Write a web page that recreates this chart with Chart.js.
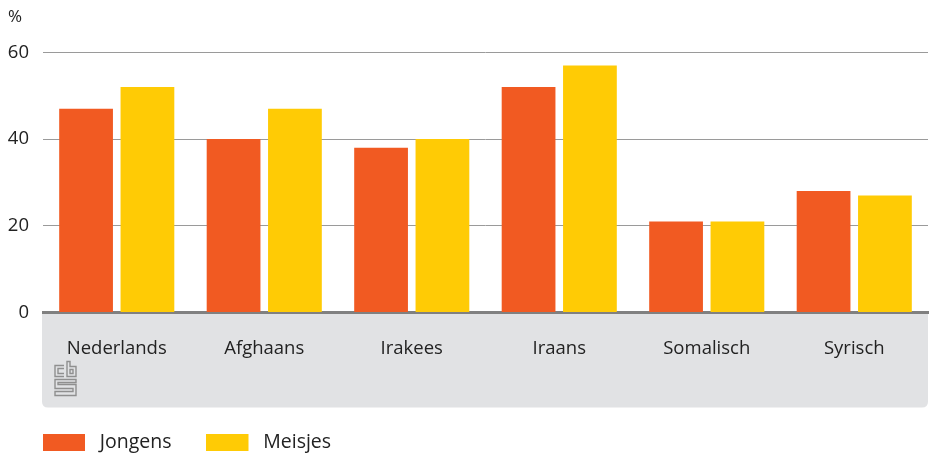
<!DOCTYPE html>
<html>
<head>
<meta charset="utf-8">
<script src="https://cdn.jsdelivr.net/npm/chart.js@4/dist/chart.umd.min.js"></script>
<style>
html,body{margin:0;padding:0;background:#fff;}
#wrap{width:930px;height:455px;position:relative;}
</style>
</head>
<body>
<div id="wrap"><canvas id="c" width="930" height="455"></canvas></div>
<script>
const categories = ["Nederlands", "Afghaans", "Irakees", "Iraans", "Somalisch", "Syrisch"];
const jongens = [47, 40, 38, 52, 21, 28];
const meisjes = [52, 47, 40, 57, 21, 27];
const seriesNames = ["Jongens", "Meisjes"];
const seriesColors = ["#f15a22", "#ffcb05"];
const yTicks = [0, 20, 40, 60];

const FONT = "'Open Sans', 'DejaVu Sans', sans-serif";
const TEXT = "#222222";

function legendSwatch(color) {
  const cv = document.createElement("canvas");
  cv.width = 47; cv.height = 17;
  const g = cv.getContext("2d");
  g.fillStyle = color;
  g.fillRect(0, 0, 42, 17);
  return cv;
}
const swatches = seriesColors.map(legendSwatch);

const bandPlugin = {
  id: "band",
  beforeDraw(chart) {
    const {ctx, chartArea} = chart;
    const l = chartArea.left - 1, r = chartArea.right, t = chartArea.bottom, b = t + 95, rad = 6;
    ctx.save();
    ctx.fillStyle = "#e1e2e4";
    ctx.beginPath();
    ctx.moveTo(l, t);
    ctx.lineTo(r, t);
    ctx.lineTo(r, b - rad);
    ctx.quadraticCurveTo(r, b, r - rad, b);
    ctx.lineTo(l + rad, b);
    ctx.quadraticCurveTo(l, b, l, b - rad);
    ctx.closePath();
    ctx.fill();
    // cbs logo (decorative)
    const x0 = l + 12, y0 = t + 49;
    ctx.strokeStyle = "#8f8f8f";
    ctx.lineWidth = 1.4;
    ctx.beginPath();
    ctx.moveTo(x0 + 10, y0 + 4); ctx.lineTo(x0 + 1, y0 + 4); ctx.lineTo(x0 + 1, y0 + 15); ctx.lineTo(x0 + 10, y0 + 15);
    ctx.moveTo(x0 + 10, y0 + 7); ctx.lineTo(x0 + 4, y0 + 7); ctx.lineTo(x0 + 4, y0 + 12); ctx.lineTo(x0 + 10, y0 + 12);
    ctx.moveTo(x0 + 13, y0 + 0); ctx.lineTo(x0 + 13, y0 + 15); ctx.lineTo(x0 + 22, y0 + 15); ctx.lineTo(x0 + 22, y0 + 5); ctx.lineTo(x0 + 16, y0 + 5); ctx.lineTo(x0 + 16, y0 + 0); ctx.closePath();
    ctx.moveTo(x0 + 16, y0 + 8); ctx.lineTo(x0 + 19, y0 + 8); ctx.lineTo(x0 + 19, y0 + 12); ctx.lineTo(x0 + 16, y0 + 12); ctx.closePath();
    ctx.moveTo(x0 + 22, y0 + 18); ctx.lineTo(x0 + 1, y0 + 18); ctx.lineTo(x0 + 1, y0 + 27); ctx.lineTo(x0 + 19, y0 + 27); ctx.lineTo(x0 + 19, y0 + 30); ctx.lineTo(x0 + 1, y0 + 30); ctx.lineTo(x0 + 1, y0 + 34); ctx.lineTo(x0 + 22, y0 + 34); ctx.lineTo(x0 + 22, y0 + 23); ctx.lineTo(x0 + 4, y0 + 23); ctx.lineTo(x0 + 4, y0 + 21); ctx.lineTo(x0 + 22, y0 + 21); ctx.closePath();
    ctx.stroke();
    ctx.restore();
  }
};

new Chart(document.getElementById("c"), {
  type: "bar",
  data: {
    labels: categories,
    datasets: [
      { label: seriesNames[0], data: jongens, backgroundColor: seriesColors[0] },
      { label: seriesNames[1], data: meisjes, backgroundColor: seriesColors[1] }
    ]
  },
  options: {
    responsive: false,
    animation: false,
    events: [],
    layout: { padding: { left: 8, right: 2, top: 0, bottom: -7 } },
    categoryPercentage: 0.832,
    barPercentage: 0.876,
    plugins: {
      tooltip: { enabled: false },
      title: {
        display: true,
        text: "%",
        align: "start",
        color: TEXT,
        font: { family: FONT, size: 17, weight: "normal", lineHeight: 1.2 },
        padding: { top: 7, bottom: 25 }
      },
      legend: {
        position: "bottom",
        align: "start",
        labels: {
          usePointStyle: true,
          pointStyleWidth: 47,
          boxHeight: 17,
          padding: 35,
          color: TEXT,
          font: { family: FONT, size: 19.5 },
          generateLabels(chart) {
            return chart.data.datasets.map((ds, i) => ({
              text: ds.label,
              fillStyle: seriesColors[i],
              strokeStyle: seriesColors[i],
              lineWidth: 0,
              pointStyle: swatches[i],
              hidden: false,
              datasetIndex: i,
              fontColor: TEXT
            }));
          }
        }
      }
    },
    scales: {
      x: {
        grid: { display: false, drawTicks: false },
        border: { display: true, color: "#808080", width: 3 },
        ticks: { color: TEXT, font: { family: FONT, size: 18.5 }, padding: 25, maxRotation: 0 },
        afterFit(scale) { scale.height = 85; }
      },
      y: {
        min: 0,
        max: 60,
        afterBuildTicks(scale) { scale.ticks = yTicks.map(v => ({ value: v })); },
        grid: { color: "#9a9a9a", lineWidth: 1, drawTicks: false },
        border: { display: false },
        ticks: { color: TEXT, font: { family: FONT, size: 18.5 }, padding: 14 },
        afterFit(scale) { scale.width = 35; }
      }
    }
  },
  plugins: [bandPlugin]
});
</script>
</body>
</html>
